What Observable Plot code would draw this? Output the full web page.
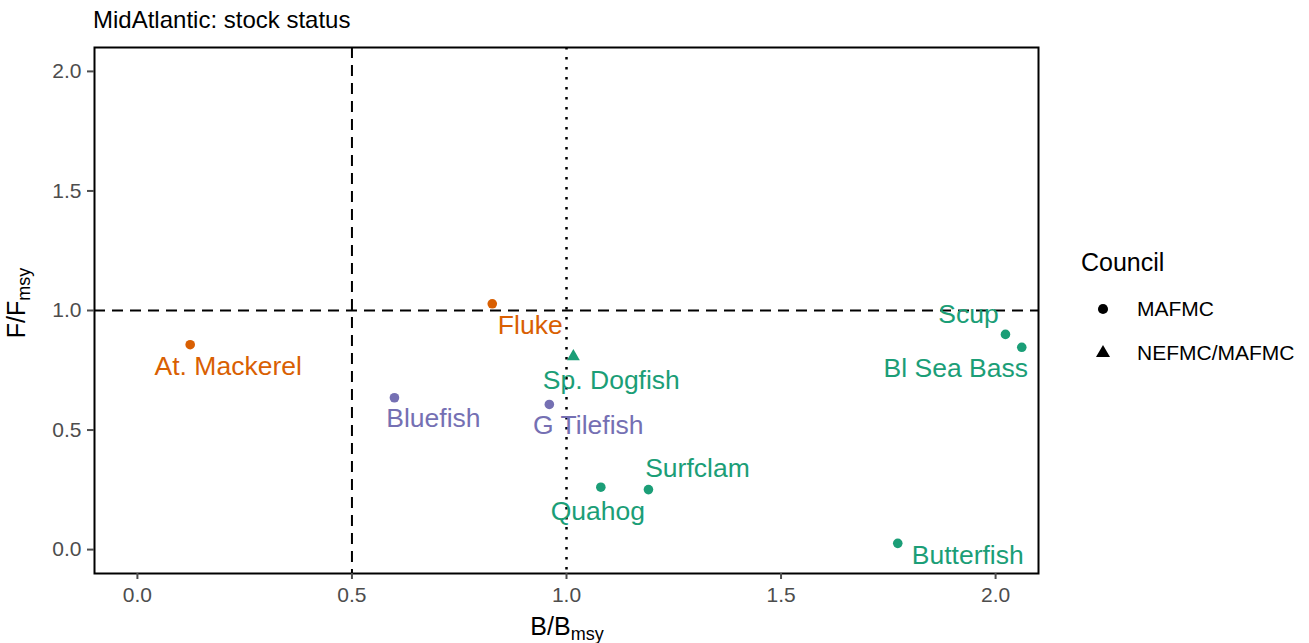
<!DOCTYPE html>
<html>
<head>
<meta charset="utf-8">
<script src="https://cdn.jsdelivr.net/npm/d3@7"></script>
<script src="https://cdn.jsdelivr.net/npm/@observablehq/plot@0.6"></script>
<style>
  html, body { margin: 0; padding: 0; background: white; }
  #chart svg { display: block; }
</style>
</head>
<body>
<div id="chart"></div>
<script>
// ---- data ----
const stocks   = ["At. Mackerel", "Fluke", "Bluefish", "G Tilefish", "Sp. Dogfish", "Quahog", "Surfclam", "Butterfish", "Scup", "Bl Sea Bass"];
const bBmsy    = [0.123, 0.827, 0.599, 0.960, 1.016, 1.080, 1.191, 1.772, 2.023, 2.061];
const fFmsy    = [0.857, 1.028, 0.635, 0.607, 0.808, 0.261, 0.251, 0.026, 0.900, 0.846];
const council  = ["MAFMC", "MAFMC", "MAFMC", "MAFMC", "NEFMC/MAFMC", "MAFMC", "MAFMC", "MAFMC", "MAFMC", "MAFMC"];
const status   = ["a", "a", "b", "b", "c", "c", "c", "c", "c", "c"];
const councils = ["MAFMC", "NEFMC/MAFMC"];
const statusDomain = ["a", "b", "c"];
const xTicks = [0, 0.5, 1, 1.5, 2];
const yTicks = [0, 0.5, 1, 1.5, 2];
const refB = [0.5];
const refBmsy = [1];
const refF = [1];

// label placement (pixel nudges, like ggrepel result)
const labelNudge = [[38, 22], [38, 22], [39, 21], [39, 21], [38, 24], [-3, 24], [49, -21], [70, 12], [-37, -20], [-66, 21]];
const statusColors = ["#D95F02", "#7570B3", "#1B9E77"];

const data = stocks.map((s, i) => ({stock: s, b: bBmsy[i], f: fFmsy[i], council: council[i], status: status[i], nudge: labelNudge[i]}));

const font = "'Liberation Sans', Arial, Helvetica, sans-serif";

const svg = Plot.plot({
  width: 1309,
  height: 643,
  marginLeft: 94,
  marginRight: 271,
  marginTop: 47,
  marginBottom: 70,
  style: {fontFamily: font, background: "white", overflow: "visible"},
  x: {domain: [-0.1, 2.1], label: null},
  y: {domain: [-0.1, 2.1], label: null},
  color: {domain: statusDomain, range: statusColors},
  symbol: {domain: councils, range: ["circle", "triangle"]},
  marks: [
    Plot.ruleX(refB, {stroke: "black", strokeWidth: 2, strokeDasharray: "11,7"}),
    Plot.ruleY(refF, {stroke: "black", strokeWidth: 2, strokeDasharray: "11,7"}),
    Plot.ruleX(refBmsy, {stroke: "black", strokeWidth: 2.5, strokeDasharray: "2.5,7.5"}),
    Plot.dot(data, {x: "b", y: "f", fill: "status", symbol: "council", r: 4.8, stroke: "none"}),
    ...data.map(d => Plot.text([d], {
      x: "b", y: "f", text: "stock", fill: "status",
      dx: d.nudge[0], dy: d.nudge[1], fontSize: 26.5, textAnchor: "middle"
    })),
    Plot.frame({stroke: "black", strokeWidth: 2}),
    Plot.axisX({ticks: xTicks, tickFormat: d3.format(".1f"), tickSize: 6, tickPadding: 8, color: "#4D4D4D", fontSize: 21, strokeWidth: 2, label: null}),
    Plot.axisY({ticks: yTicks, tickFormat: d3.format(".1f"), tickSize: 7, tickPadding: 6, color: "#4D4D4D", fontSize: 21, strokeWidth: 2, label: null})
  ]
});

const s = d3.select(svg);
// Title
s.append("text").attr("x", 93).attr("y", 28).attr("font-size", 24).attr("fill", "black")
  .attr("text-anchor", "start").attr("font-family", font).text("MidAtlantic: stock status");
// x axis title
const xt = s.append("text").attr("x", 567).attr("y", 635).attr("text-anchor", "middle")
  .attr("font-size", 25).attr("fill", "black").attr("font-family", font);
xt.append("tspan").text("B/B");
xt.append("tspan").attr("font-size", 18).attr("dy", 5).text("msy");
// y axis title
const yt = s.append("text").attr("transform", "translate(25,303) rotate(-90)").attr("text-anchor", "middle")
  .attr("font-size", 25).attr("fill", "black").attr("font-family", font);
yt.append("tspan").text("F/F");
yt.append("tspan").attr("font-size", 18).attr("dy", 5).text("msy");
// legend
s.append("text").attr("x", 1081).attr("y", 271).attr("font-size", 25).attr("fill", "black")
  .attr("text-anchor", "start").attr("font-family", font).text("Council");
const sym = [d3.symbolCircle, d3.symbolTriangle];
const legY = [309, 353];
councils.forEach((c, i) => {
  s.append("path").attr("transform", `translate(1103,${legY[i]})`)
    .attr("d", d3.symbol(sym[i], i === 0 ? 80 : 85)()).attr("fill", "black");
  s.append("text").attr("x", 1137).attr("y", legY[i]).attr("dy", "0.35em")
    .attr("text-anchor", "start").attr("font-size", 21).attr("fill", "black").attr("font-family", font).text(c);
});

document.getElementById("chart").appendChild(svg);
</script>
</body>
</html>
